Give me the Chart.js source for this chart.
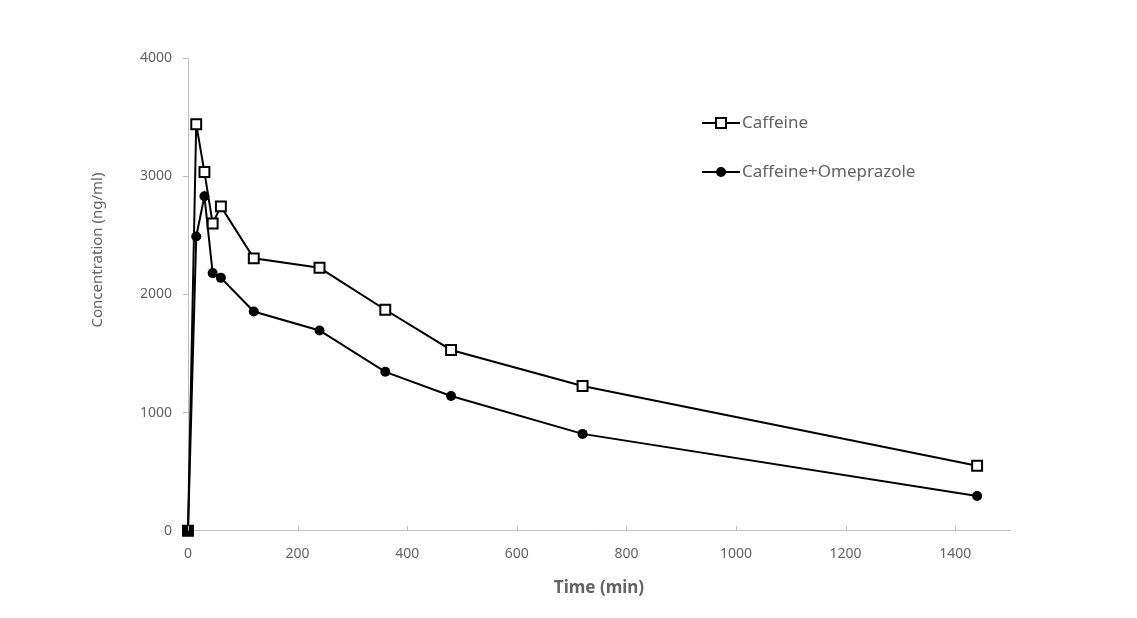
<!DOCTYPE html>
<html>
<head>
<meta charset="utf-8">
<script src="https://cdn.jsdelivr.net/npm/chart.js@4"></script>
<style>
  html, body { margin: 0; padding: 0; background: #fff; }
  #chart { display: block; }
</style>
</head>
<body>
<canvas id="chart" width="1137" height="618"></canvas>
<script>
// Caffeine plasma concentration vs time

const timePoints = [0, 15, 30, 45, 60, 120, 240, 360, 480, 720, 1440];
const caffeine = [0, 3440, 3035, 2600, 2745, 2305, 2225, 1870, 1530, 1225, 550];
const caffeineOmeprazole = [0, 2490, 2830, 2180, 2140, 1855, 1695, 1345, 1140, 820, 295];
const seriesNames = ['Caffeine', 'Caffeine+Omeprazole'];

const xTicks = [0, 200, 400, 600, 800, 1000, 1200, 1400];
const yTicks = [0, 1000, 2000, 3000, 4000];
const yTitle = 'Concentration (ng/ml)';

const textColor = '#636363';
const axisColor = '#bfbfbf';
const fontFamily = "'Noto Sans', 'Open Sans', sans-serif";

function toXY(values) {
    return timePoints.map((t, i) => ({ x: t, y: values[i] }));
}

// Small inward tick marks on the x axis (Excel style)
const xTickMarks = {
    id: 'xTickMarks',
    afterDraw(chart) {
        const ctx = chart.ctx;
        const xs = chart.scales.x;
        const bottom = chart.chartArea.bottom;
        ctx.save();
        ctx.strokeStyle = axisColor;
        ctx.lineWidth = 1;
        xTicks.forEach(v => {
            const px = Math.round(xs.getPixelForValue(v)) + 0.5;
            ctx.beginPath();
            ctx.moveTo(px, bottom);
            ctx.lineTo(px, bottom - 5);
            ctx.stroke();
        });
        ctx.restore();
    }
};

// Y title sits a bit above the axis middle, as in the original
const yTitleLabel = {
    id: 'yTitleLabel',
    afterDraw(chart) {
        const ctx = chart.ctx;
        ctx.save();
        ctx.translate(98, 250);
        ctx.rotate(-Math.PI / 2);
        ctx.fillStyle = textColor;
        ctx.font = '15px ' + fontFamily;
        ctx.textAlign = 'center';
        ctx.textBaseline = 'middle';
        ctx.fillText(yTitle, 0, 0);
        ctx.restore();
    }
};

// Legend drawn inside the plot, line through marker
const innerLegend = {
    id: 'innerLegend',
    afterDraw(chart) {
        const ctx = chart.ctx;
        const x0 = 702, x1 = 740;
        const rows = [123, 172];
        ctx.save();
        chart.data.datasets.forEach((ds, i) => {
            const y = rows[i];
            ctx.strokeStyle = '#000';
            ctx.lineWidth = 2;
            ctx.beginPath();
            ctx.moveTo(x0, y);
            ctx.lineTo(x1, y);
            ctx.stroke();
            const mx = (x0 + x1) / 2;
            if (ds.pointStyle === 'rect') {
                ctx.fillStyle = '#fff';
                ctx.fillRect(mx - 5, y - 5, 10, 10);
                ctx.strokeRect(mx - 5, y - 5, 10, 10);
            } else {
                ctx.fillStyle = '#000';
                ctx.beginPath();
                ctx.arc(mx, y, 5, 0, Math.PI * 2);
                ctx.fill();
            }
            ctx.fillStyle = textColor;
            ctx.font = '17px ' + fontFamily;
            ctx.textBaseline = 'middle';
            ctx.textAlign = 'left';
            ctx.fillText(ds.label, x1 + 2, y);
        });
        ctx.restore();
    }
};

const ctx = document.getElementById('chart').getContext('2d');

new Chart(ctx, {
    type: 'line',
    data: {
        datasets: [
            {
                label: seriesNames[0],
                data: toXY(caffeine),
                borderColor: '#000',
                borderWidth: 2,
                pointStyle: 'rect',
                pointRadius: 7,
                pointBorderWidth: 2,
                pointBorderColor: '#000',
                pointBackgroundColor: (c) => c.dataIndex === 0 ? '#000' : '#fff',
                tension: 0,
                clip: false,
                order: 1
            },
            {
                label: seriesNames[1],
                data: toXY(caffeineOmeprazole),
                borderColor: '#000',
                borderWidth: 2,
                pointStyle: 'circle',
                pointRadius: 5,
                pointBorderWidth: 0,
                pointBackgroundColor: '#000',
                tension: 0,
                clip: false,
                order: 2
            }
        ]
    },
    options: {
        responsive: false,
        animation: false,
        layout: {
            padding: { left: 92, top: 58, right: 127, bottom: 20 }
        },
        plugins: {
            legend: { display: false },
            tooltip: { enabled: false }
        },
        scales: {
            x: {
                type: 'linear',
                min: 0,
                max: 1500,
                afterBuildTicks: (s) => { s.ticks = xTicks.map(v => ({ value: v })); },
                border: { display: true, color: axisColor, width: 1 },
                grid: { display: false },
                ticks: {
                    color: textColor,
                    padding: 7,
                    callback: (v) => String(v),
                    font: { family: fontFamily, size: 14 }
                },
                title: {
                    display: true,
                    text: 'Time (min)',
                    color: textColor,
                    padding: { top: 8, bottom: 0 },
                    font: { family: fontFamily, size: 17, weight: 'bold' }
                }
            },
            y: {
                min: 0,
                max: 4000,
                afterBuildTicks: (s) => { s.ticks = yTicks.map(v => ({ value: v })); },
                afterFit: (s) => { s.width = 96; },
                border: { display: true, color: axisColor, width: 1 },
                grid: {
                    drawOnChartArea: false,
                    drawTicks: true,
                    tickLength: 5,
                    color: axisColor
                },
                ticks: {
                    color: textColor,
                    padding: 11,
                    callback: (v) => String(v),
                    font: { family: fontFamily, size: 14 }
                },
                title: { display: false }
            }
        }
    },
    plugins: [xTickMarks, yTitleLabel, innerLegend]
});
</script>
</body>
</html>
